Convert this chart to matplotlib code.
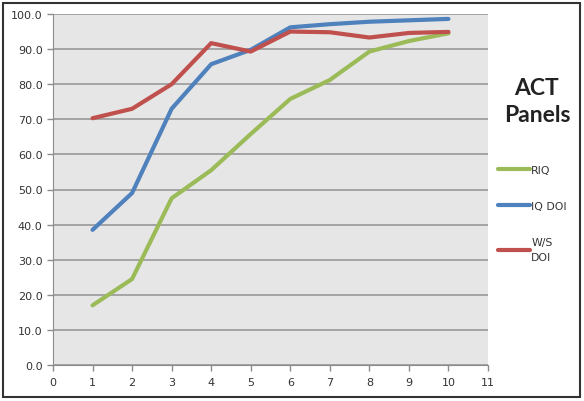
import matplotlib
matplotlib.use("Agg")
import matplotlib.pyplot as plt
from matplotlib.patches import Rectangle

# data
x_vals = [1, 2, 3, 4, 5, 6, 7, 8, 9, 10]
riq = [17.0, 24.5, 47.5, 55.5, 65.8, 75.8, 81.2, 89.3, 92.3, 94.5]
iq_doi = [38.5, 49.0, 73.0, 85.7, 89.8, 96.2, 97.1, 97.8, 98.2, 98.6]
ws_doi = [70.3, 73.0, 80.0, 91.7, 89.3, 95.0, 94.8, 93.3, 94.6, 94.9]
series_names = ["RIQ", "IQ DOI", "W/S\nDOI"]
series_colors = ["#9bbb59", "#4f81bd", "#c0504d"]

fig = plt.figure(figsize=(5.84, 4.02), dpi=100)
ax = fig.add_axes([53/584, 1-366/402, (488-53)/584, (366-15)/402])
ax.set_facecolor("#e6e6e6")

for ys, name, col in zip([riq, iq_doi, ws_doi], series_names, series_colors):
    ax.plot(x_vals, ys, color=col, lw=3.0, label=name, solid_capstyle="round")

ax.set_xlim(0, 11)
ax.set_ylim(0, 100)
ax.set_xticks(range(0, 12))
ax.set_yticks(range(0, 101, 10))
ax.set_yticklabels(["%.1f" % v for v in range(0, 101, 10)])
ax.yaxis.grid(True, color="#999999", lw=1.2)
ax.set_axisbelow(True)
for s in ["top", "right"]:
    ax.spines[s].set_visible(False)
for s in ["left", "bottom"]:
    ax.spines[s].set_color("#8c8c8c")
ax.tick_params(colors="#8c8c8c", labelcolor="#333333", labelsize=8, length=4, width=1)
ax.tick_params(axis="x", pad=5)

# legend on the right
fig.text(537/584, 1-102/402, "ACT\nPanels", ha="center", va="center", family="Lato",
         fontsize=16.5, fontweight="bold", color="#222222", linespacing=1.35)
leg = ax.legend(loc="upper left", bbox_to_anchor=(488/584, 1-156/402),
                bbox_transform=fig.transFigure, frameon=False, fontsize=7.8,
                handlelength=3.0, handletextpad=0.1, labelspacing=2.4)
for t in leg.get_texts():
    t.set_color("#333333")
    t.set_linespacing(1.7)

# outer border of the chart
fig.patches.append(Rectangle((3/584, 4/402), 577/584, 394/402, transform=fig.transFigure,
                             fill=False, edgecolor="#333333", lw=1.5))

fig.savefig("out.png", dpi=100)
